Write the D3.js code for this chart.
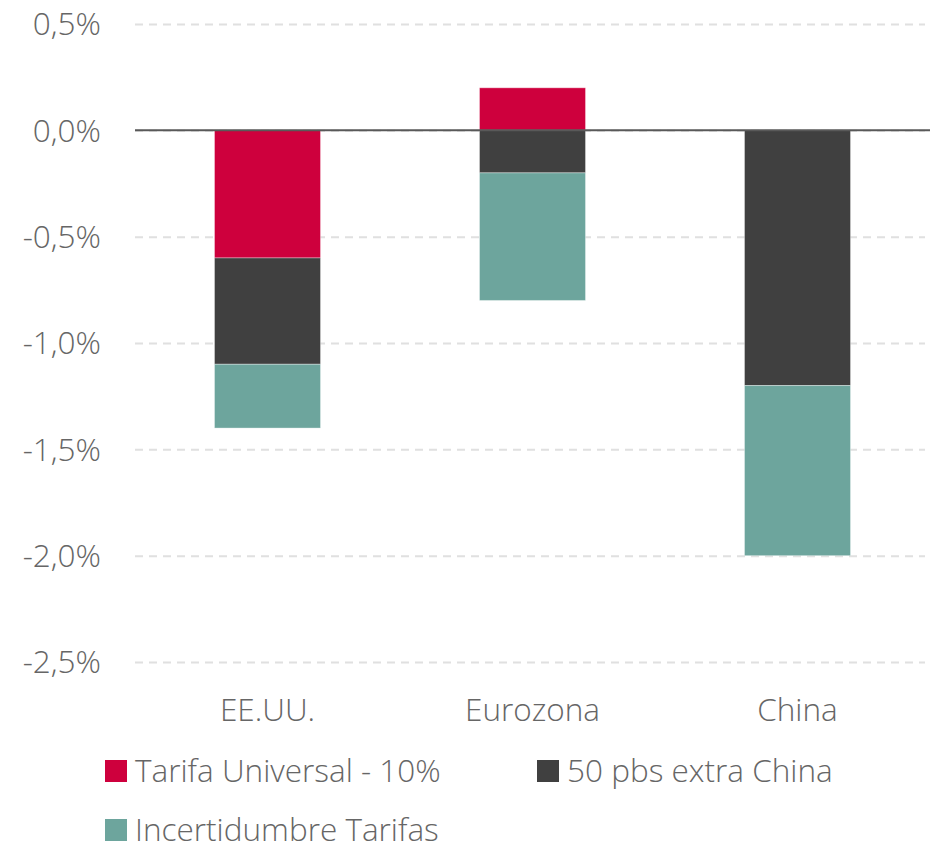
<!DOCTYPE html>
<html>
<head>
<meta charset="utf-8">
<script src="https://cdn.jsdelivr.net/npm/d3@7"></script>
<style>
  body { margin: 0; background: #fff; }
  text { font-family: "Open Sans", sans-serif; font-weight: 300; fill: #666; }
</style>
</head>
<body>
<div id="chart"></div>
<script>
var regions = ["EE.UU.", "Eurozona", "China"];
var series = ["Tarifa Universal - 10%", "50 pbs extra China", "Incertidumbre Tarifas"];
var tarifa = [-0.6, 0.2, 0.0];
var extraChina = [-0.5, -0.2, -1.2];
var incertidumbre = [-0.3, -0.6, -0.8];
var yTicks = [0.5, 0, -0.5, -1, -1.5, -2, -2.5];
var colors = ["#CE003D", "#404040", "#6DA59D"];

var width = 936, height = 845;
var margin = {top: 24, right: 6, bottom: 183, left: 135};

var svg = d3.select("#chart").append("svg")
    .attr("width", width)
    .attr("height", height);

var x = d3.scaleBand().domain(regions)
    .range([margin.left, width - margin.right])
    .paddingInner(0.6).paddingOuter(0.3);
var y = d3.scaleLinear().domain([-2.5, 0.5])
    .range([height - margin.bottom, margin.top]);

// grid
svg.append("g")
    .attr("transform", "translate(" + margin.left + ",0)")
    .call(d3.axisLeft(y).tickValues(yTicks).tickSize(-(width - margin.right - margin.left - 5)).tickFormat(""))
    .call(function(g) { g.select(".domain").remove(); })
    .selectAll("line")
    .attr("stroke", "#e0e0e0")
    .attr("stroke-width", 2)
    .attr("stroke-dasharray", "8,6");

// y labels
svg.selectAll(".ylab")
    .data(yTicks)
    .enter().append("text")
    .attr("x", 101)
    .attr("y", function(d) { return y(d); })
    .attr("dy", "0.36em")
    .attr("text-anchor", "end")
    .style("font-size", "31.5px")
    .text(function(d) { return d3.format(".1f")(d).replace("−", "-").replace(".", ",") + "%"; });

// stacked bars, positives and negatives stacked separately from zero
var segs = [];
regions.forEach(function(r, i) {
  var vals = [tarifa[i], extraChina[i], incertidumbre[i]];
  var pos = 0, neg = 0;
  vals.forEach(function(v, k) {
    if (v === 0) return;
    var y0, y1;
    if (v > 0) { y0 = pos; y1 = pos + v; pos = y1; }
    else { y0 = neg; y1 = neg + v; neg = y1; }
    segs.push({region: r, k: k, y0: y0, y1: y1});
  });
});

svg.selectAll(".bar")
    .data(segs)
    .enter().append("rect")
    .attr("x", function(d) { return x(d.region); })
    .attr("width", x.bandwidth())
    .attr("y", function(d) { return y(Math.max(d.y0, d.y1)); })
    .attr("height", function(d) { return Math.abs(y(d.y0) - y(d.y1)); })
    .attr("fill", function(d) { return colors[d.k]; })
    .attr("stroke", "rgba(255,255,255,0.35)")
    .attr("stroke-width", 1);

// zero line
svg.append("line")
    .attr("x1", margin.left).attr("x2", width - margin.right)
    .attr("y1", y(0)).attr("y2", y(0))
    .attr("stroke", "#595959")
    .attr("stroke-width", 2);

// category labels
svg.selectAll(".xlab")
    .data(regions)
    .enter().append("text")
    .attr("x", function(d) { return x(d) + x.bandwidth() / 2; })
    .attr("y", 721)
    .attr("text-anchor", "middle")
    .style("font-size", "31.5px")
    .text(function(d) { return d; });

// legend
var legPos = [[105, 760], [537, 760], [105, 819]];
var leg = svg.selectAll(".leg")
    .data(series)
    .enter().append("g")
    .attr("transform", function(d, i) { return "translate(" + legPos[i][0] + "," + legPos[i][1] + ")"; });
leg.append("rect")
    .attr("width", 22).attr("height", 22)
    .attr("fill", function(d, i) { return colors[i]; });
leg.append("text")
    .attr("x", 30)
    .attr("y", 22)
    .style("font-size", "31.5px")
    .text(function(d) { return d; });
</script>
</body>
</html>
